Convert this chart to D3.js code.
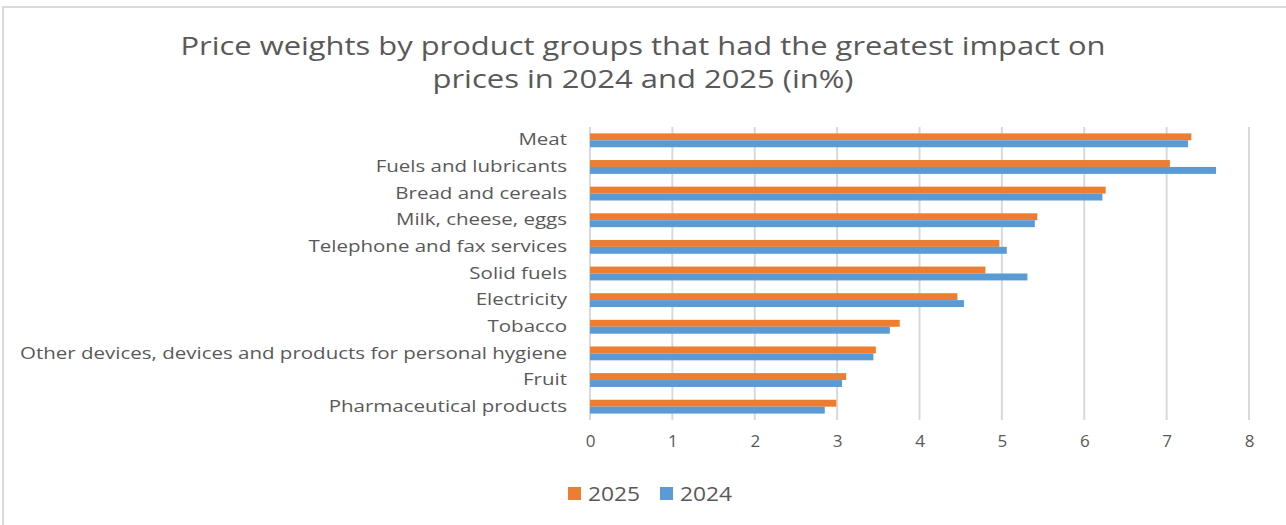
<!DOCTYPE html>
<html>
<head>
<meta charset="utf-8">
<script src="https://cdn.jsdelivr.net/npm/d3@7/dist/d3.min.js"></script>
<style>
  html, body { margin: 0; padding: 0; background: #fff; }
  svg { display: block; }
  text { font-family: "Open Sans", "Noto Sans", sans-serif; fill: #595959; }
</style>
</head>
<body>
<svg id="chart" width="1286" height="525"></svg>
<script>
const categories = [
  "Meat",
  "Fuels and lubricants",
  "Bread and cereals",
  "Milk, cheese, eggs",
  "Telephone and fax services",
  "Solid fuels",
  "Electricity",
  "Tobacco",
  "Other devices, devices and products for personal hygiene",
  "Fruit",
  "Pharmaceutical products"
];
const values2025 = [7.30, 7.04, 6.26, 5.43, 4.97, 4.80, 4.46, 3.76, 3.47, 3.11, 2.99];
const values2024 = [7.26, 7.60, 6.22, 5.40, 5.06, 5.31, 4.54, 3.64, 3.44, 3.06, 2.85];
const seriesNames = ["2025", "2024"];
const seriesColors = ["#ED7D31", "#5B9BD5"];
const xTicks = [0, 1, 2, 3, 4, 5, 6, 7, 8];
const titleLines = [
  "Price weights by product groups  that had the greatest impact on",
  "prices in 2024 and 2025 (in%)"
];

const svg = d3.select("#chart");

// outer chart border
svg.append("rect")
  .attr("x", 3).attr("y", 7).attr("width", 1300).attr("height", 540)
  .attr("fill", "none").attr("stroke", "#d9d9d9").attr("stroke-width", 2);

const plot = { left: 590, right: 1249, top: 127, bottom: 420 };

const x = d3.scaleLinear().domain([0, 8]).range([plot.left, plot.right]);
const y = d3.scaleBand().domain(categories).range([plot.top, plot.bottom]).paddingInner(0.48).paddingOuter(0.24);
const ySub = d3.scaleBand().domain(seriesNames).range([0, y.bandwidth()]);

// gridlines
svg.append("g").selectAll("line").data(xTicks).join("line")
  .attr("x1", d => x(d)).attr("x2", d => x(d))
  .attr("y1", plot.top).attr("y2", plot.bottom)
  .attr("stroke", "#d9d9d9").attr("stroke-width", 2);

// x axis labels
const xAxis = d3.axisBottom(x).tickValues(xTicks).tickSize(0).tickPadding(0).tickFormat(d3.format("d"));
const gx = svg.append("g").attr("transform", `translate(0,${plot.bottom + 15})`).call(xAxis);
gx.select(".domain").remove();
gx.selectAll("text")
  .attr("font-size", 17).attr("fill", "#595959")
  .attr("font-family", "\"Open Sans\", sans-serif")
  .attr("dy", "0.71em");

// bars
const data = [values2025, values2024];
const gBars = svg.append("g");
categories.forEach((c, i) => {
  seriesNames.forEach((s, j) => {
    gBars.append("rect")
      .attr("x", x(0))
      .attr("y", y(c) + ySub(s))
      .attr("width", x(data[j][i]) - x(0))
      .attr("height", ySub.bandwidth())
      .attr("fill", seriesColors[j]);
  });
});

// category labels
const yAxis = d3.axisLeft(y).tickSize(0).tickPadding(23);
const gy = svg.append("g").attr("transform", `translate(${plot.left},0)`).call(yAxis);
gy.select(".domain").remove();
gy.selectAll("text")
  .attr("font-size", 16).attr("fill", "#595959")
  .attr("font-family", "\"Open Sans\", sans-serif");
// stretch labels to match reference width
let maxW = 0;
gy.selectAll("text").each(function() { maxW = Math.max(maxW, this.getComputedTextLength()); });
const labelScale = 547 / maxW;
gy.selectAll("text").each(function() {
  const w = this.getComputedTextLength();
  d3.select(this).attr("textLength", w * labelScale).attr("lengthAdjust", "spacingAndGlyphs");
});

// title
const titleWidths = [925, 421];
const titleY = [55, 88];
titleLines.forEach((t, i) => {
  svg.append("text")
    .attr("x", 643).attr("y", titleY[i])
    .attr("text-anchor", "middle")
    .attr("font-size", 25)
    .attr("textLength", titleWidths[i])
    .attr("lengthAdjust", "spacingAndGlyphs")
    .text(t);
});

// legend
const legendX = [568, 660];
seriesNames.forEach((s, j) => {
  const g = svg.append("g").attr("transform", `translate(${legendX[j]},487)`);
  g.append("rect").attr("width", 13).attr("height", 13).attr("fill", seriesColors[j]);
  g.append("text").attr("x", 20).attr("y", 6.5).attr("dy", "0.36em")
    .attr("font-size", 20).attr("textLength", 52).attr("lengthAdjust", "spacingAndGlyphs")
    .text(s);
});
</script>
</body>
</html>
